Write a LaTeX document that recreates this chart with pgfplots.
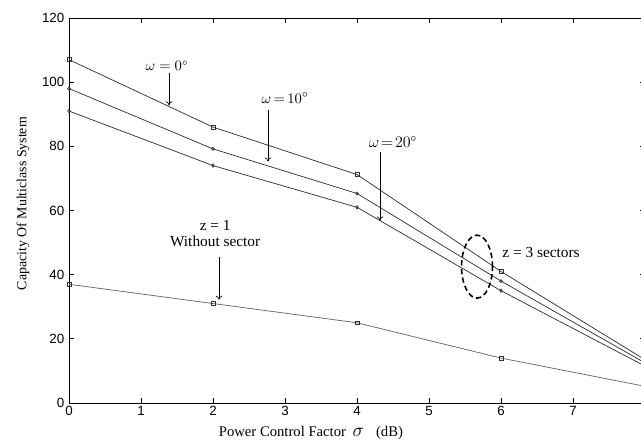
\documentclass[border=0pt]{standalone}
\usepackage{fontspec}
\setmainfont{Liberation Serif}
\newfontfamily\ticksans{Liberation Sans}
\usepackage{pgfplots}
\pgfplotsset{compat=1.18}
\usetikzlibrary{arrows.meta}
\begin{document}
\begin{tikzpicture}
\begin{axis}[
  scale only axis,
  width=432pt, height=288.75pt,
  xmin=0, xmax=8, ymin=0, ymax=120,
  xtick={0,1,...,7}, ytick={0,20,...,120},
  tick align=inside, major tick length=3.5pt,
  tick style={black, line width=0.5pt},
  axis line style={line width=0.7pt},
  /pgf/number format/assume math mode=true,
  ticklabel style={font=\ticksans\fontsize{10}{12}\selectfont},
  xticklabel style={yshift=1pt},
  every axis x label/.style={at={(axis description cs:0.42,0)}, anchor=center, yshift=-22.5pt},
  every axis y label/.style={at={(axis description cs:-0.08,0.518)}, anchor=center, rotate=90},
  xlabel={\fontsize{11}{13}\selectfont Power Control Factor\hspace{5pt}{\fontsize{14}{14}\selectfont$\sigma$}\hspace{9pt}(dB)},
  ylabel={\fontsize{10.4}{12}\selectfont Capacity Of Multiclass System},
  clip=false,
]
\addplot[black!80, line width=0.55pt, mark=square, mark size=1.4pt, mark options={line width=0.5pt}, mark indices={1,2,3,4}]
  coordinates {(0,107) (2,86) (4,71.2) (6,41) (8,13.5)};
\addplot[black!80, line width=0.55pt, mark=o, mark size=1.1pt, mark options={line width=0.5pt}, mark indices={1,2,3,4}]
  coordinates {(0,98) (2,79.2) (4,65.3) (6,38) (8,12.5)};
\addplot[black!80, line width=0.55pt, mark=diamond, mark size=1.3pt, mark options={line width=0.5pt}, mark indices={1,2,3,4}]
  coordinates {(0,91) (2,74) (4,61) (6,35) (8,11.5)};
\addplot[black!60, line width=0.55pt, mark=square, mark size=1.4pt, mark options={black!80, line width=0.5pt}, mark indices={1,2,3,4}]
  coordinates {(0,37) (2,31) (4,25) (6,14) (8,5.2)};

\node[font=\fontsize{10.5}{12}\selectfont] at (axis cs:1.36,105) {$\omega = 0^\circ$};
\draw[-{To[length=3pt,width=5pt]}, line width=0.5pt] (axis cs:1.389,103) -- (axis cs:1.389,92.8);
\node[font=\fontsize{11}{13}\selectfont] at (axis cs:3.0,95) {$\omega\,{=}\,10^\circ$};
\draw[-{To[length=3pt,width=5pt]}, line width=0.5pt] (axis cs:2.764,91.2) -- (axis cs:2.764,75.3);
\node[font=\fontsize{12}{14}\selectfont] at (axis cs:4.5,81.3) {$\omega\!=\!20^\circ$};
\draw[-{To[length=3pt,width=5pt]}, line width=0.5pt] (axis cs:4.32,78.1) -- (axis cs:4.32,56.9);
\node[font=\fontsize{11.5}{12.5}\selectfont, align=center] at (axis cs:2.03,52.8) {z = 1\\Without sector};
\draw[-{To[length=3pt,width=5pt]}, line width=0.5pt] (axis cs:2.083,45.6) -- (axis cs:2.083,32.2);
\draw[dashed, line width=1.2pt, dash pattern=on 4pt off 2.5pt] (axis cs:5.667,42.5) ellipse [x radius=11.6pt, y radius=23.6pt];
\node[font=\fontsize{11.5}{13}\selectfont] at (axis cs:6.556,46.9) {z = 3 sectors};
\end{axis}
\pgfresetboundingbox
\useasboundingbox (-51.75pt,-28.5pt) rectangle (429pt,302.25pt);
\end{tikzpicture}
\end{document}
